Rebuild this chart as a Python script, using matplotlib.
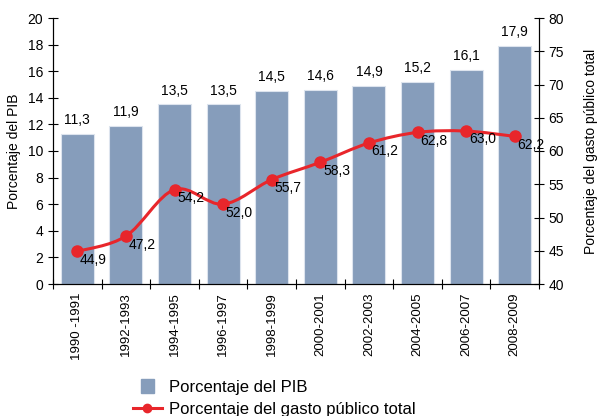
import numpy as np
import matplotlib.pyplot as plt
from matplotlib.path import Path
from matplotlib.patches import PathPatch, Patch, Rectangle
from matplotlib.lines import Line2D
from matplotlib.legend_handler import HandlerPatch

plt.rcParams['font.family'] = ['Liberation Sans', 'DejaVu Sans']

periodos = ["1990 -1991", "1992-1993", "1994-1995", "1996-1997", "1998-1999",
            "2000-2001", "2002-2003", "2004-2005", "2006-2007", "2008-2009"]
pib = [11.3, 11.9, 13.5, 13.5, 14.5, 14.6, 14.9, 15.2, 16.1, 17.9]
gasto = [44.9, 47.2, 54.2, 52.0, 55.7, 58.3, 61.2, 62.8, 63.0, 62.2]

col_barra = "#869dbb"
col_linea = "#e8262b"

fig = plt.figure(figsize=(6.02, 4.16), dpi=100)
ax = fig.add_axes([53 / 602, 1 - 284 / 416, 486 / 602, 266 / 416])
ax2 = ax.twinx()

x = np.arange(len(periodos))
ax.bar(x, pib, width=0.68, color=col_barra, edgecolor="#dde4ee", linewidth=0.8)
for xi, v in zip(x, pib):
    ax.annotate(f"{v:.1f}".replace(".", ","), (xi, v), xytext=(0, 5),
                textcoords="offset points", ha="center", va="bottom", fontsize=10)

ax.set_xlim(-0.5, len(periodos) - 0.5)
ax.set_ylim(0, 20)
ax.set_yticks(range(0, 21, 2))
ax.set_xticks(np.arange(-0.5, len(periodos), 1), minor=False)
ax.set_xticklabels([])
ax.set_xticks(x, minor=True)
ax.set_xticklabels(periodos, minor=True, rotation=90, fontsize=9.5)
ax.tick_params(axis="x", which="minor", length=0, pad=6)
ax.tick_params(axis="x", which="major", direction="inout", length=7)
ax.tick_params(axis="y", direction="inout", length=7, labelsize=10)
ax.set_ylabel("Porcentaje del PIB", fontsize=10, labelpad=5)

# curva suavizada (Catmull-Rom en Bezier) entre los puntos del gasto
pts = np.column_stack([x, gasto]).astype(float)
verts = [pts[0]]
codes = [Path.MOVETO]
for i in range(len(pts) - 1):
    p0 = pts[max(i - 1, 0)]
    p1 = pts[i]
    p2 = pts[i + 1]
    p3 = pts[min(i + 2, len(pts) - 1)]
    c1 = p1 + (p2 - p0) / 6
    c2 = p2 - (p3 - p1) / 6
    verts += [c1, c2, p2]
    codes += [Path.CURVE4] * 3
ax2.add_patch(PathPatch(Path(verts, codes), fill=False, edgecolor=col_linea, lw=2.2))
ax2.plot(x, gasto, "o", color=col_linea, markersize=8, zorder=3)
for xi, v in zip(x, gasto):
    ax2.annotate(f"{v:.1f}".replace(".", ","), (xi, v), xytext=(2, -1),
                 textcoords="offset points", ha="left", va="top", fontsize=10)

ax2.set_ylim(40, 80)
ax2.set_yticks(range(40, 81, 5))
ax2.tick_params(axis="y", direction="inout", length=7, labelsize=10)
ax2.set_ylabel("Porcentaje del gasto público total", fontsize=10, labelpad=14)

for a in (ax, ax2):
    a.spines["top"].set_visible(False)


def cuadrado(legend, orig_handle, xdescent, ydescent, width, height, fontsize):
    lado = 0.8 * fontsize
    return Rectangle((width / 2 - lado / 2 - xdescent, height / 2 - lado / 2 - ydescent),
                     lado, lado)


handles = [Patch(color=col_barra),
           Line2D([0], [0], color=col_linea, lw=2.2, marker="o", markersize=6)]
fig.legend(handles, ["Porcentaje del PIB", "Porcentaje del gasto público total"],
           loc="upper left", bbox_to_anchor=(121 / 602, 1 - 368 / 416),
           frameon=False, fontsize=12, handlelength=1.75, handletextpad=0.45,
           labelspacing=0.42, borderpad=0.2,
           handler_map={Patch: HandlerPatch(patch_func=cuadrado)})

fig.savefig("out.png", dpi=100)
